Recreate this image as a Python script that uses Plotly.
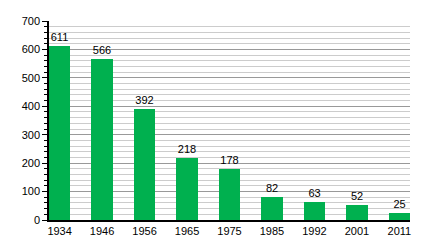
import plotly.graph_objects as go

years = ["1934", "1946", "1956", "1965", "1975", "1985", "1992", "2001", "2011"]
values = [611, 566, 392, 218, 178, 82, 63, 52, 25]
y_ticks = [0, 100, 200, 300, 400, 500, 600, 700]

fig = go.Figure(go.Bar(
    x=list(range(len(years))), y=values, width=0.5,
    marker=dict(color="#00b04f", line=dict(width=0)),
    text=[str(v) for v in values], textposition="outside",
    textfont=dict(family="Liberation Sans, Arial", size=11, color="#000"),
    cliponaxis=False,
))

fig.update_layout(
    width=440, height=240,
    margin=dict(l=49, r=30, t=21, b=20),
    paper_bgcolor="white", plot_bgcolor="white",
    showlegend=False,
    font=dict(family="Liberation Sans, Arial", size=11, color="#000"),
    xaxis=dict(
        range=[-0.25, 8.25], tickmode="array",
        tickvals=list(range(len(years))), ticktext=years,
        showgrid=False, showline=True, linecolor="black", linewidth=1.5,
        ticks="", zeroline=False, tickfont=dict(size=11), automargin=False,
    ),
    yaxis=dict(
        range=[0, 700], tickmode="array", tickvals=y_ticks,
        showgrid=True, gridcolor="#999999", gridwidth=1,
        showline=True, linecolor="black", linewidth=1.5,
        ticks="outside", ticklen=5, tickcolor="black", tickwidth=1,
        zeroline=False, tickfont=dict(size=11), automargin=False,
        minor=dict(dtick=20, showgrid=True, gridcolor="#cccccc", gridwidth=1,
                   ticks="outside", ticklen=3, tickcolor="black"),
    ),
    bargap=0,
)

fig.write_html("out.html")
